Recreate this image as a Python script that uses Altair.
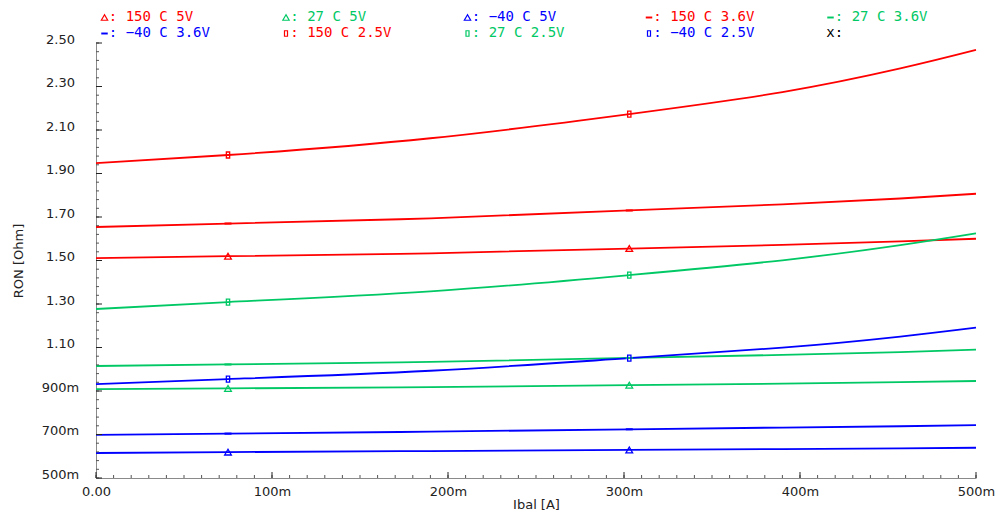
import altair as alt
import pandas as pd

# ---------------- data ----------------
x_A = [0.0, 0.075, 0.190, 0.303, 0.390, 0.457, 0.500]

ron_150C_2p5V = [1.948, 1.985, 2.062, 2.173, 2.274, 2.383, 2.468]
ron_150C_3p6V = [1.654, 1.670, 1.694, 1.730, 1.758, 1.785, 1.807]
ron_150C_5V   = [1.511, 1.520, 1.533, 1.555, 1.572, 1.588, 1.600]
ron_27C_2p5V  = [1.277, 1.309, 1.358, 1.433, 1.501, 1.571, 1.625]
ron_27C_3p6V  = [1.015, 1.022, 1.034, 1.052, 1.066, 1.079, 1.090]
ron_27C_5V    = [0.909, 0.912, 0.918, 0.927, 0.934, 0.941, 0.946]
ron_m40C_2p5V = [0.932, 0.955, 0.993, 1.051, 1.099, 1.150, 1.191]
ron_m40C_3p6V = [0.698, 0.704, 0.713, 0.724, 0.732, 0.738, 0.743]
ron_m40C_5V   = [0.615, 0.619, 0.624, 0.629, 0.633, 0.636, 0.639]

marker_x = [0.075, 0.303]

temps = ["150", "27", "-40"]
temp_colors = ["#ff0000", "#00c864", "#0000ff"]

x_major = [0.0, 0.1, 0.2, 0.3, 0.4, 0.5]
x_minor = [round(i * 0.01, 3) for i in range(51)]
y_major = [0.5, 0.7, 0.9, 1.1, 1.3, 1.5, 1.7, 1.9, 2.1, 2.3, 2.5]
y_minor = [round(0.5 + i * 0.04, 3) for i in range(51)]

# legend entries in reference order (row-major, 5 per row)
legend_labels = ["150 C 5V", "27 C 5V", "\u221240 C 5V", "150 C 3.6V", "27 C 3.6V",
                 "\u221240 C 3.6V", "150 C 2.5V", "27 C 2.5V", "\u221240 C 2.5V", ""]
legend_temps = ["150", "27", "-40", "150", "27", "-40", "150", "27", "-40", None]
legend_volts = ["5V", "5V", "5V", "3.6V", "3.6V", "3.6V", "2.5V", "2.5V", "2.5V", None]

series = [
    ("150", "2.5V", ron_150C_2p5V), ("150", "3.6V", ron_150C_3p6V), ("150", "5V", ron_150C_5V),
    ("27", "2.5V", ron_27C_2p5V), ("27", "3.6V", ron_27C_3p6V), ("27", "5V", ron_27C_5V),
    ("-40", "2.5V", ron_m40C_2p5V), ("-40", "3.6V", ron_m40C_3p6V), ("-40", "5V", ron_m40C_5V),
]

rows = []
for t, v, vals in series:
    for x, r in zip(x_A, vals):
        rows.append({"x": x, "ron": r, "temp": t, "volt": v, "series": f"{t} C {v}"})
df = pd.DataFrame(rows)
mk = df[df["x"].isin(marker_x)]

# ---------------- layout / style ----------------
W, H = 880, 435
FONT = "DejaVu Sans"
MONO = "DejaVu Sans Mono"
color_of = dict(zip(temps, temp_colors))

TRI = "triangle-up"
DASH = "M-1,-0.3L1,-0.3L1,0.3L-1,0.3Z"
RECT = "M-0.55,-1L0.55,-1L0.55,1L-0.55,1Z"
shape_of = {"5V": TRI, "3.6V": DASH, "2.5V": RECT}

x_scale = alt.Scale(domain=[0, 0.5], nice=False, zero=False)
y_scale = alt.Scale(domain=[0.5, 2.5], nice=False, zero=False)
c_scale = alt.Scale(domain=temps, range=temp_colors)

x_axis = alt.Axis(
    values=x_major, ticks=False, grid=False,
    labelExpr="datum.value == 0 ? '0.00' : format(round(datum.value*1000), 'd') + 'm'",
    labelFont=FONT, labelFontSize=13, labelColor="#222", labelPadding=7,
    labelBaseline="top", labelFlush=False, labelOverlap=False,
    domainColor="#8a8a8a", domainWidth=1,
    title="Ibal [A]", titleFont=FONT, titleFontSize=13, titleFontWeight="normal",
    titleColor="#222", titleX=W / 2, titleY=26, titleAlign="center", titleBaseline="middle",
)
y_axis = alt.Axis(
    values=y_major, ticks=False, grid=False,
    labelExpr="datum.value < 0.99 ? format(round(datum.value*1000), 'd') + 'm' : format(datum.value, '.2f')",
    labelFont=FONT, labelFontSize=13, labelColor="#222", labelPadding=36,
    labelAlign="center", labelBaseline="alphabetic", labelFlush=False, labelOverlap=False,
    domainColor="#8a8a8a", domainWidth=1,
    title="RON [Ohm]", titleFont=FONT, titleFontSize=13, titleFontWeight="normal",
    titleColor="#222", titleX=-78, titleY=H / 2, titleAngle=270,
    titleAlign="center", titleBaseline="middle",
)


def X(field):
    return alt.X(field, scale=x_scale, axis=x_axis, title="Ibal [A]")


def Y(field):
    return alt.Y(field, scale=y_scale, axis=y_axis, title="RON [Ohm]")


lines = alt.Chart(df).mark_line(interpolate="natural", strokeWidth=1.8).encode(
    x=X("x:Q"),
    y=Y("ron:Q"),
    color=alt.Color("temp:N", scale=c_scale, legend=None),
    detail="series:N",
)

marker_layers = []
for v in ["5V", "3.6V", "2.5V"]:
    sub = mk[mk["volt"] == v]
    size = {"5V": 45, "3.6V": 49, "2.5V": 36}[v]
    filled = v == "3.6V"
    marker_layers.append(
        alt.Chart(sub).mark_point(shape=shape_of[v], size=size, filled=filled,
                                  strokeWidth=1.3, opacity=1).encode(
            x=X("x:Q"),
            y=Y("ron:Q"),
            color=alt.Color("temp:N", scale=c_scale, legend=None),
        )
    )

# inward tick marks
tick_layers = [
    alt.Chart(pd.DataFrame({"x": x_minor})).mark_rule(color="#555", strokeWidth=1).encode(
        x=X("x:Q"), y=alt.value(H), y2=alt.value(H - 3)),
    alt.Chart(pd.DataFrame({"x": x_major})).mark_rule(color="#222", strokeWidth=1).encode(
        x=X("x:Q"), y=alt.value(H), y2=alt.value(H - 6)),
    alt.Chart(pd.DataFrame({"ron": y_minor})).mark_rule(color="#555", strokeWidth=1).encode(
        y=Y("ron:Q"), x=alt.value(0), x2=alt.value(3)),
    alt.Chart(pd.DataFrame({"ron": y_major})).mark_rule(color="#222", strokeWidth=1).encode(
        y=Y("ron:Q"), x=alt.value(0), x2=alt.value(6)),
]

# custom legend above the plot
legend_layers = []
one = pd.DataFrame({"a": [0]})
for i, (lab, t, v) in enumerate(zip(legend_labels, legend_temps, legend_volts)):
    row, col = divmod(i, 5)
    sx = 8.5 + col * 181.5
    sy = -26.5 + row * 16
    if t is None:
        legend_layers.append(
            alt.Chart(one).mark_text(text="x:", font=MONO, fontSize=14, color="#000",
                                     align="left", baseline="middle").encode(
                x=alt.value(sx - 4.3), y=alt.value(sy)))
        continue
    c = color_of[t]
    size = {"5V": 40, "3.6V": 42, "2.5V": 30}[v]
    legend_layers.append(
        alt.Chart(one).mark_point(shape=shape_of[v], size=size, filled=(v == "3.6V"),
                                  color=c, strokeWidth=1.2, opacity=1).encode(
            x=alt.value(sx), y=alt.value(sy + 1)))
    legend_layers.append(
        alt.Chart(one).mark_text(text=": " + lab, font=MONO, fontSize=14, color=c,
                                 align="left", baseline="middle").encode(
            x=alt.value(sx + 4.3), y=alt.value(sy)))

chart = alt.layer(lines, *marker_layers, *tick_layers, *legend_layers).properties(
    width=W, height=H,
    padding={"left": 88, "top": 35, "right": 22, "bottom": 36},
    autosize=alt.AutoSizeParams(type="none"),
    background="white",
).configure_view(stroke=None)

chart.save("out.html", embed_options={"renderer": "svg", "actions": False})
